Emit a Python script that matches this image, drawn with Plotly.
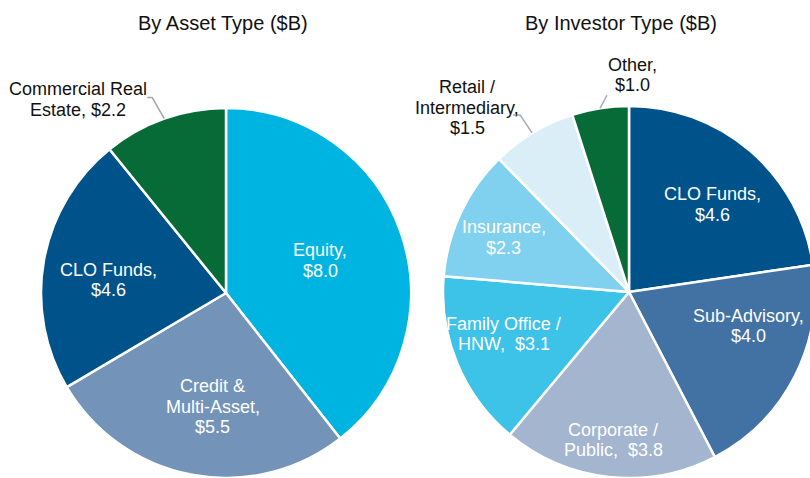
import math

import plotly.graph_objects as go

# ── Data ───────────────────────────────────────────────────────
ASSET_LABELS = ["Equity", "Credit &<br>Multi-Asset", "CLO Funds", "Commercial Real<br>Estate"]
ASSET_VALUES = [8.0, 5.5, 4.6, 2.2]

INVESTOR_LABELS = [
    "CLO Funds", "Sub-Advisory", "Corporate /<br>Public", "Family Office /<br>HNW",
    "Insurance", "Retail /<br>Intermediary", "Other",
]
INVESTOR_VALUES = [4.6, 4.0, 3.8, 3.1, 2.3, 1.5, 1.0]

# ── Style ──────────────────────────────────────────────────────
W, H = 818, 478          # slightly wider than the window: right pie is cut at the edge
FONT = "Liberation Sans, Arial, sans-serif"
LABEL_SIZE = 18
LINE_H = 20.5
TITLE_SIZE = 20

ASSET_COLORS = ["#00B4E1", "#7394B8", "#00538A", "#076B38"]
INVESTOR_COLORS = ["#00538A", "#4271A3", "#A3B5CF", "#3DC2E8", "#80D0EF", "#D9EEF7", "#076B38"]

# pie geometry in pixels: centre x, centre y, radius
LEFT_PIE = (226, 293, 185)
RIGHT_PIE = (629, 294, 188)

# inside label placement: (radius fraction, angle shift in degrees); None = outside label
ASSET_INSIDE = [(0.54, 0), (0.62, -4), (0.64, -4), None]
INVESTOR_INSIDE = [(0.65, 2), (0.66, -12), (0.78, 0), (0.70, 5), (0.73, -1), None, None]
# labels whose value sits on the last text line ("HNW,  $3.1")
SAME_LINE = {"Corporate /<br>Public", "Family Office /<br>HNW"}


def fmt_label(lbl, val):
    if lbl in SAME_LINE:
        return f"{lbl},\u00a0\u00a0${val:.1f}"
    return f"{lbl},<br>${val:.1f}"


def mid_angles(values):
    total = sum(values)
    out, acc = [], 0.0
    for v in values:
        out.append((acc + v / 2) / total * 360)
        acc += v
    return out


def polar(pie, frac, ang):
    cx, cy, r = pie
    a = math.radians(ang)
    return cx + frac * r * math.sin(a), cy - frac * r * math.cos(a)


def px(x, y):
    return x / W, 1 - y / H


def domain(pie):
    cx, cy, r = pie
    return dict(x=[max(0, (cx - r) / W), min(1, (cx + r) / W)],
                y=[max(0, (H - cy - r) / H), min(1, (H - cy + r) / H)])


fig = go.Figure()
for pie, labels, values, colors in [
    (LEFT_PIE, ASSET_LABELS, ASSET_VALUES, ASSET_COLORS),
    (RIGHT_PIE, INVESTOR_LABELS, INVESTOR_VALUES, INVESTOR_COLORS),
]:
    fig.add_trace(go.Pie(
        labels=labels, values=values, sort=False, direction="clockwise", rotation=0,
        marker=dict(colors=colors, line=dict(color="white", width=2.5)),
        textinfo="none", hoverinfo="skip", showlegend=False, domain=domain(pie),
    ))

annotations = []
shapes = []


def add_text(x, y, text, color, size=LABEL_SIZE):
    # one annotation per line so the line spacing can match the original
    lines = text.split("<br>")
    n = len(lines)
    for i, line in enumerate(lines):
        ax, ay = px(x, y + (i - (n - 1) / 2) * LINE_H)
        annotations.append(dict(
            x=ax, y=ay, xref="paper", yref="paper", text=line, showarrow=False,
            xanchor="center", yanchor="middle",
            font=dict(family=FONT, size=size, color=color),
        ))


def add_leader(points):
    path = "M " + " L ".join(f"{px(x, y)[0]},{px(x, y)[1]}" for x, y in points)
    shapes.append(dict(type="path", xref="paper", yref="paper", path=path,
                       line=dict(color="#A6A6A6", width=1.5)))


# inside labels
for pie, labels, values, place in [
    (LEFT_PIE, ASSET_LABELS, ASSET_VALUES, ASSET_INSIDE),
    (RIGHT_PIE, INVESTOR_LABELS, INVESTOR_VALUES, INVESTOR_INSIDE),
]:
    for lbl, val, ang, p in zip(labels, values, mid_angles(values), place):
        if p is None:
            continue
        x, y = polar(pie, p[0], ang + p[1])
        add_text(x, y, fmt_label(lbl, val), "white")

# outside labels with leader lines
asset_mid = mid_angles(ASSET_VALUES)
inv_mid = mid_angles(INVESTOR_VALUES)

ex, ey = polar(LEFT_PIE, 1.0, asset_mid[3])
add_leader([(ex, ey), (ex - 12, ey - 21), (ex - 17, ey - 21)])
add_text(ex - 86, ey - 19, f"Commercial Real<br>Estate, ${ASSET_VALUES[3]:.1f}", "#111111")

ex, ey = polar(RIGHT_PIE, 1.0, inv_mid[5])
add_leader([(ex, ey), (ex - 12, ey - 18), (ex - 19, ey - 18)])
add_text(ex - 65, ey - 25, f"Retail /<br>Intermediary,<br>${INVESTOR_VALUES[5]:.1f}", "#111111")

ex, ey = polar(RIGHT_PIE, 1.0, inv_mid[6])
add_leader([(ex, ey), (ex + 7, ey - 13)])
add_text(ex + 32, ey - 33, f"Other,<br>${INVESTOR_VALUES[6]:.1f}", "#111111")

# titles
for x, title in [(223, "By Asset Type ($B)"), (621, "By Investor Type ($B)")]:
    add_text(x, 23, title, "#111111", size=TITLE_SIZE)

fig.update_layout(
    width=W, height=H,
    margin=dict(l=0, r=0, t=0, b=0),
    paper_bgcolor="white", plot_bgcolor="white",
    annotations=annotations, shapes=shapes,
)

# drop the default body margin and scrollbars so the chart sits at the window's corner
fig.write_html(
    "out.html",
    config={"displayModeBar": False},
    post_script="document.body.style.margin='0';document.body.style.overflow='hidden';",
)
